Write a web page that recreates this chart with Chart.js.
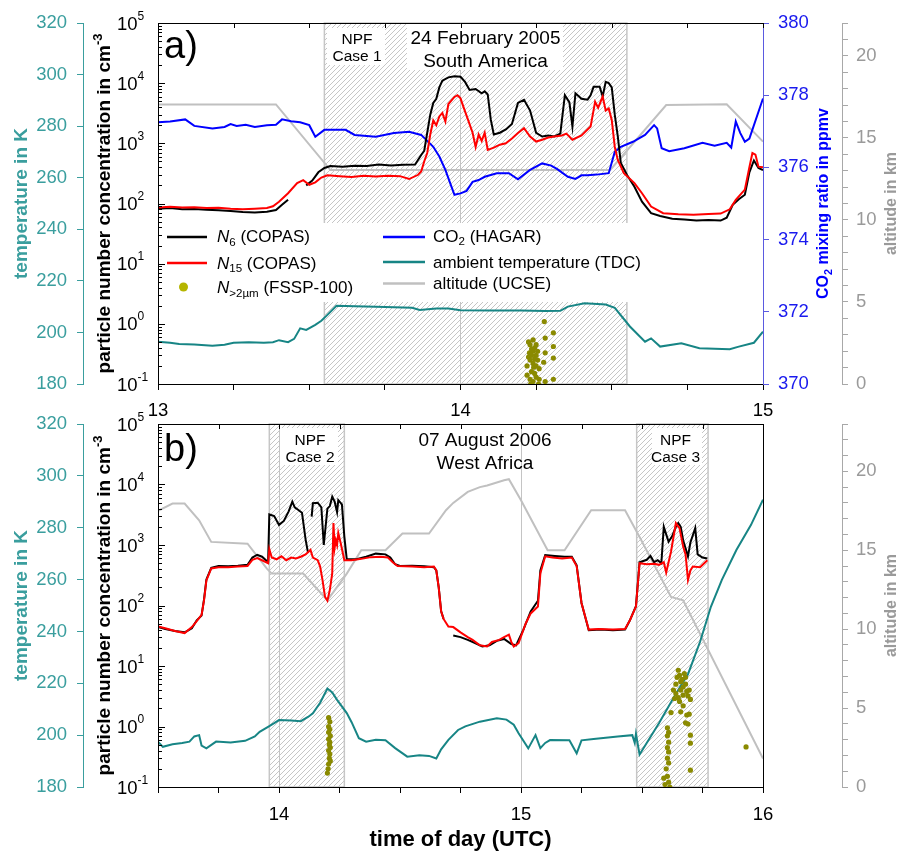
<!DOCTYPE html>
<html>
<head>
<meta charset="utf-8">
<script src="https://cdn.jsdelivr.net/npm/chart.js@4/dist/chart.umd.min.js"></script>
<style>
  html, body { margin: 0; padding: 0; background: #fff; }
  #wrap { position: relative; width: 898px; height: 852px; }
  canvas { position: absolute; left: 0; }
  #ca { top: 0; }
  #cb { top: 400px; }
</style>
</head>
<body>
<div id="wrap">
  <canvas id="ca" width="898" height="420"></canvas>
  <canvas id="cb" width="898" height="452"></canvas>
</div>
<script>
"use strict";
// ---- panel a) 24 February 2005, South America : [time of day (h UTC), value]
var A_N6 = [[13.00,82],[13.04,84],[13.08,80],[13.12,81],[13.16,79],[13.20,77],[13.24,75],[13.28,72],[13.32,71],[13.36,73],[13.39,78],[13.41,95],[13.43,115],[13.44,null],[13.49,200],[13.51,240],[13.53,330],[13.55,390],[13.57,420],[13.61,410],[13.65,425],[13.69,420],[13.73,445],[13.77,430],[13.81,440],[13.85,445],[13.87,640],[13.88,750],[13.89,1500],[13.90,3000],[13.91,4700],[13.92,5500],[13.93,8500],[13.94,11000],[13.96,12500],[13.98,13000],[14.00,12800],[14.015,10500],[14.03,7700],[14.05,8000],[14.07,6800],[14.08,7300],[14.09,6500],[14.10,2500],[14.11,1400],[14.13,1500],[14.15,1700],[14.17,2100],[14.19,4700],[14.21,5300],[14.23,3500],[14.25,1500],[14.27,1300],[14.29,1350],[14.31,1300],[14.33,1450],[14.345,6300],[14.36,4800],[14.37,1900],[14.38,6800],[14.40,5500],[14.42,5300],[14.43,6300],[14.44,8700],[14.46,8700],[14.47,6000],[14.48,10500],[14.49,10000],[14.50,8500],[14.51,3000],[14.52,1300],[14.53,470],[14.55,300],[14.575,190],[14.60,107],[14.63,69],[14.66,62],[14.70,56],[14.74,54],[14.78,52],[14.82,53],[14.86,52],[14.88,58],[14.90,95],[14.92,118],[14.94,140],[14.955,330],[14.97,520],[14.985,390],[15.00,360]];
var A_N15 = [[13.00,86],[13.04,88],[13.08,86],[13.12,87],[13.16,84],[13.20,85],[13.24,82],[13.28,80],[13.32,82],[13.36,84],[13.38,90],[13.40,107],[13.43,148],[13.46,218],[13.48,245],[13.50,205],[13.52,225],[13.54,270],[13.56,295],[13.60,285],[13.64,275],[13.68,290],[13.72,280],[13.76,290],[13.80,285],[13.83,255],[13.86,300],[13.87,340],[13.88,500],[13.89,690],[13.90,1400],[13.91,2400],[13.92,2000],[13.93,2800],[13.94,3200],[13.95,2300],[13.96,4500],[13.98,5900],[13.99,6300],[14.00,5600],[14.01,4000],[14.025,2450],[14.04,1500],[14.05,870],[14.06,1400],[14.07,1100],[14.08,1500],[14.09,780],[14.11,850],[14.13,950],[14.15,1000],[14.17,1200],[14.19,1480],[14.21,1780],[14.23,1300],[14.25,1070],[14.27,1150],[14.29,1250],[14.31,1300],[14.335,1350],[14.35,1450],[14.37,1150],[14.40,1350],[14.43,1900],[14.445,4900],[14.455,3900],[14.47,6000],[14.48,3500],[14.49,3800],[14.50,2450],[14.51,870],[14.52,530],[14.54,320],[14.575,218],[14.60,148],[14.63,89],[14.67,69],[14.72,66],[14.77,65],[14.82,67],[14.86,68],[14.89,80],[14.91,115],[14.94,170],[14.955,400],[14.965,690],[14.975,650],[14.985,410],[15.00,400]];
var A_CO2 = [[13.00,377.25],[13.04,377.27],[13.09,377.33],[13.12,377.15],[13.18,377.08],[13.22,377.12],[13.24,377.2],[13.26,377.15],[13.29,377.18],[13.32,377.12],[13.36,377.17],[13.39,377.18],[13.41,377.33],[13.44,377.28],[13.47,377.25],[13.50,377.17],[13.52,376.85],[13.55,377.04],[13.62,377.04],[13.65,376.9],[13.72,376.85],[13.78,376.95],[13.83,376.99],[13.87,376.9],[13.91,376.57],[13.93,376.3],[13.95,375.93],[13.97,375.47],[13.98,375.24],[14.00,375.28],[14.02,375.35],[14.04,375.6],[14.06,375.65],[14.08,375.74],[14.12,375.84],[14.16,375.84],[14.19,375.67],[14.23,375.93],[14.27,376.11],[14.30,376.05],[14.32,375.95],[14.355,375.74],[14.38,375.68],[14.40,375.78],[14.42,375.78],[14.45,375.8],[14.49,375.84],[14.51,376.43],[14.53,376.57],[14.57,376.71],[14.61,376.9],[14.64,377.17],[14.65,377.08],[14.665,376.53],[14.69,376.45],[14.74,376.53],[14.80,376.68],[14.84,376.6],[14.88,376.68],[14.895,376.55],[14.91,377.27],[14.925,376.95],[14.94,376.71],[14.955,376.8],[15.00,377.91]];
var A_TEMP = [[13.00,196.4],[13.04,196.0],[13.07,195.5],[13.12,195.3],[13.18,194.8],[13.22,195.2],[13.25,196.0],[13.30,196.2],[13.35,196.0],[13.38,196.2],[13.40,197.0],[13.43,196.2],[13.45,197.5],[13.47,201.6],[13.49,201.0],[13.52,202.9],[13.54,204.5],[13.56,206.8],[13.59,210.3],[13.65,210.2],[13.72,210.0],[13.78,209.8],[13.84,209.6],[13.865,208.7],[13.92,209.3],[13.96,209.3],[14.00,208.6],[14.10,208.5],[14.20,208.5],[14.28,208.3],[14.33,208.4],[14.355,210.0],[14.41,211.3],[14.48,210.8],[14.51,209.5],[14.56,202.3],[14.61,196.4],[14.63,197.7],[14.66,194.5],[14.73,195.8],[14.79,193.9],[14.89,193.5],[14.92,194.5],[14.97,196.0],[15.00,200.3]];
var A_ALT = [[13.00,17.04],[13.39,17.04],[13.57,13.04],[14.495,13.04],[14.68,17.0],[14.88,17.05],[15.00,14.77]];
var A_FSSP = [[14.277,1.09],[14.307,0.71],[14.28,0.58],[14.24,0.54],[14.307,0.42],[14.28,0.33],[14.307,0.27],[14.275,0.23],[14.307,0.12],[14.28,0.11],[14.225,0.5],[14.23,0.45],[14.235,0.38],[14.24,0.35],[14.245,0.4],[14.25,0.3],[14.225,0.28],[14.23,0.25],[14.24,0.22],[14.25,0.2],[14.255,0.25],[14.26,0.18],[14.22,0.2],[14.235,0.16],[14.245,0.15],[14.25,0.13],[14.23,0.12],[14.24,0.11],[14.26,0.12],[14.22,0.14],[14.255,0.35],[14.235,0.3],[14.245,0.26],[14.25,0.45],[14.228,0.33],[14.242,0.19],[14.232,0.1],[14.258,0.1]];
var A_NPF = [[13.55,14.55]];

// ---- panel b) 07 August 2006, West Africa
var B_N6 = [[13.50,44],[13.53,41],[13.57,38],[13.61,36],[13.64,42],[13.66,57],[13.68,68],[13.69,125],[13.70,270],[13.72,420],[13.75,450],[13.79,445],[13.83,455],[13.87,470],[13.89,620],[13.91,690],[13.93,640],[13.955,520],[13.96,3200],[13.98,3000],[14.00,2150],[14.02,2500],[14.04,3600],[14.055,5200],[14.065,4200],[14.08,3800],[14.095,3400],[14.11,1230],[14.12,740],[14.125,null],[14.135,2950],[14.14,4900],[14.16,5000],[14.175,4200],[14.185,1000],[14.20,4000],[14.21,4400],[14.22,6300],[14.23,5200],[14.24,3500],[14.245,5500],[14.26,4700],[14.27,1380],[14.28,580],[14.32,580],[14.36,640],[14.40,720],[14.44,700],[14.46,620],[14.48,480],[14.50,450],[14.55,455],[14.60,445],[14.64,430],[14.65,380],[14.66,200],[14.67,80],[14.68,60],[14.69,null],[14.72,32],[14.75,30],[14.78,27],[14.81,24],[14.84,21],[14.87,22],[14.90,26],[14.93,28],[14.96,23],[14.98,22],[15.01,40],[15.04,80],[15.07,120],[15.08,380],[15.10,680],[15.14,660],[15.18,640],[15.21,640],[15.23,460],[15.25,110],[15.28,39],[15.33,40],[15.38,39],[15.43,40],[15.45,57],[15.475,98],[15.49,520],[15.52,570],[15.535,660],[15.55,520],[15.565,560],[15.58,500],[15.59,2000],[15.60,1500],[15.61,1130],[15.625,1400],[15.64,2000],[15.65,2300],[15.66,2000],[15.67,1200],[15.69,650],[15.70,1100],[15.72,1900],[15.73,700],[15.75,620],[15.77,600]];
var B_N15 = [[13.50,45],[13.53,42],[13.57,38],[13.61,35],[13.64,44],[13.66,55],[13.68,70],[13.69,120],[13.70,260],[13.72,410],[13.75,430],[13.79,430],[13.83,440],[13.87,450],[13.89,570],[13.91,610],[13.93,560],[13.955,500],[13.96,850],[13.97,620],[13.99,580],[14.01,650],[14.03,560],[14.05,620],[14.07,600],[14.09,640],[14.11,700],[14.13,830],[14.14,620],[14.16,560],[14.17,440],[14.18,260],[14.19,140],[14.20,120],[14.21,180],[14.22,340],[14.225,2300],[14.23,900],[14.235,1200],[14.24,1000],[14.245,1580],[14.255,1070],[14.27,560],[14.30,560],[14.34,590],[14.38,630],[14.42,640],[14.45,620],[14.47,520],[14.49,450],[14.55,440],[14.60,430],[14.64,440],[14.65,380],[14.66,200],[14.67,80],[14.68,60],[14.70,45],[14.72,44],[14.75,36],[14.78,30],[14.80,27],[14.83,22],[14.86,21],[14.88,25],[14.91,27],[14.93,30],[14.95,33],[14.96,25],[14.97,21],[14.99,24],[15.02,51],[15.04,74],[15.07,96],[15.08,340],[15.10,650],[15.13,620],[15.17,600],[15.21,620],[15.23,450],[15.25,110],[15.28,40],[15.32,41],[15.38,40],[15.43,41],[15.45,57],[15.475,96],[15.49,500],[15.52,480],[15.55,490],[15.57,470],[15.59,520],[15.60,350],[15.62,780],[15.64,2300],[15.655,1900],[15.67,940],[15.68,700],[15.69,265],[15.70,380],[15.71,440],[15.74,430],[15.77,560]];
var B_TEMP = [[13.50,197.5],[13.52,195.5],[13.56,196.5],[13.60,197.0],[13.63,197.5],[13.65,199.5],[13.67,200.0],[13.68,196.0],[13.70,194.9],[13.74,197.5],[13.80,197.2],[13.86,197.8],[13.90,199.5],[13.92,201.3],[13.96,203.5],[13.98,204.6],[14.00,205.8],[14.05,205.6],[14.09,205.4],[14.12,207.0],[14.14,208.4],[14.17,212.5],[14.20,218.0],[14.22,216.5],[14.24,213.6],[14.28,208.5],[14.30,205.0],[14.33,198.8],[14.36,197.5],[14.40,198.2],[14.44,198.0],[14.48,195.0],[14.53,191.7],[14.58,192.2],[14.62,192.0],[14.65,191.0],[14.67,194.5],[14.70,198.2],[14.74,202.0],[14.77,203.4],[14.83,205.2],[14.90,206.5],[14.94,206.0],[14.97,204.0],[14.99,200.7],[15.03,194.9],[15.06,200.0],[15.08,195.0],[15.10,197.0],[15.12,198.1],[15.20,198.0],[15.23,193.0],[15.25,198.0],[15.30,198.5],[15.35,199.0],[15.40,199.5],[15.46,200.0],[15.47,197.0],[15.475,200.5],[15.49,192.5],[15.57,204.6],[15.64,216.0],[15.69,223.5],[15.74,236.0],[15.785,249.6],[15.83,259.9],[15.89,271.4],[15.95,281.0],[16.00,290.8]];
var B_ALT = [[13.50,17.5],[13.56,17.96],[13.61,17.96],[13.67,16.9],[13.72,15.53],[13.87,15.42],[13.95,13.84],[13.97,13.52],[14.10,13.52],[14.20,11.83],[14.28,13.52],[14.34,15.0],[14.44,15.0],[14.51,16.06],[14.62,16.06],[14.69,17.54],[14.72,18.0],[14.78,18.7],[14.83,19.0],[14.86,19.1],[14.93,19.44],[14.95,19.5],[15.00,18.17],[15.11,15.0],[15.18,15.0],[15.29,17.54],[15.43,17.54],[15.49,15.84],[15.62,12.04],[15.67,11.83],[16.00,1.8]];
var B_FSSP = [[14.205,1.4],[14.21,1.2],[14.205,1.0],[14.21,0.9],[14.205,0.8],[14.212,0.7],[14.205,0.62],[14.21,0.55],[14.208,0.5],[14.212,0.45],[14.205,0.4],[14.21,0.35],[14.208,0.3],[14.212,0.27],[14.205,0.24],[14.203,0.2],[14.2,0.17],
  [15.63,4],[15.64,5],[15.645,6.5],[15.65,8.5],[15.655,7],[15.66,5.5],[15.665,6],[15.67,4.5],[15.675,7.5],[15.68,5],[15.685,3.8],[15.69,3.2],[15.695,4],[15.70,2.8],[15.64,3.5],[15.65,3],[15.66,4],[15.67,3.3],[15.68,6.5],[15.635,2.9],[15.655,2.6],[15.67,2.2],
  [15.62,1.7],[15.66,1.75],[15.685,1.55],[15.695,1.6],[15.68,1.15],[15.69,1.1],[15.70,0.72],[15.70,0.53],[15.70,0.19],[15.605,0.95],[15.61,0.8],[15.605,0.7],[15.61,0.55],[15.605,0.45],[15.61,0.38],[15.605,0.3],[15.61,0.25],[15.6,0.2],[15.605,0.15],[15.59,0.14],[15.61,0.12],[15.595,0.11],[15.615,0.1],[15.93,0.46]];
var B_NPF = [[13.96,14.27],[15.478,15.773]];

var FONT = "'Liberation Sans', Arial, sans-serif";
var TEAL = '#178585', TEAL_LBL = '#3a9e9e', BLUE = '#0000ff', BLUE_AX = '#5a5ae0';
var GRAY = '#c0c0c0', GRAY_AX = '#a8a8a8', GRAY_LBL = '#9a9a9a', OLIVE = '#8a8a00';
Chart.defaults.font.family = FONT;

function pts(arr) { return arr.map(function (p) { return {x: p[0], y: p[1]}; }); }

var hatchTile = (function () {
  var n = 5;
  var c = document.createElement('canvas'); c.width = n; c.height = n;
  var g = c.getContext('2d');
  g.fillStyle = '#fff'; g.fillRect(0, 0, n, n);
  g.strokeStyle = '#c6c6c6'; g.lineWidth = 1;
  g.beginPath();
  g.moveTo(0, n); g.lineTo(n, 0);
  g.moveTo(-n / 2, n / 2); g.lineTo(n / 2, -n / 2);
  g.moveTo(n / 2, n * 1.5); g.lineTo(n * 1.5, n / 2);
  g.stroke();
  return c;
})();

// rich text: parts = [[text, kind]], kind chars: i italic, b bold, _ subscript, ^ superscript
function rich(ctx, parts, x, y, size, color, measureOnly) {
  var cx = x;
  parts.forEach(function (p) {
    var k = p[1], fs = size, dy = 0, st = '';
    if (k.indexOf('i') >= 0) st += 'italic ';
    if (k.indexOf('b') >= 0) st += 'bold ';
    if (k.indexOf('_') >= 0) { fs = size * 0.68; dy = size * 0.22; }
    if (k.indexOf('^') >= 0) { fs = size * 0.68; dy = -size * 0.42; }
    ctx.font = st + fs + 'px ' + FONT;
    if (!measureOnly) { ctx.fillStyle = color; ctx.fillText(p[0], cx, y + dy); }
    cx += ctx.measureText(p[0]).width;
  });
  return cx - x;
}
function vTitle(ctx, parts, cx, cy, size, color) {
  ctx.save();
  ctx.textAlign = 'left'; ctx.textBaseline = 'alphabetic';
  var w = rich(ctx, parts, 0, 0, size, color, true);
  ctx.translate(cx, cy); ctx.rotate(-Math.PI / 2);
  rich(ctx, parts, -w / 2, size * 0.36, size, color);
  ctx.restore();
}

function panelPlugin(P) {
  return {
    id: 'panel' + P.name,
    beforeDraw: function (chart) {
      var ctx = chart.ctx, a = chart.chartArea, x = chart.scales.x;
      ctx.save();
      var pat = ctx.createPattern(hatchTile, 'repeat');
      P.npf.forEach(function (r) {
        var x0 = x.getPixelForValue(r[0]), x1 = x.getPixelForValue(r[1]);
        ctx.fillStyle = pat;
        ctx.fillRect(x0, a.top, x1 - x0, a.bottom - a.top);
        ctx.strokeStyle = '#c6c6c6'; ctx.lineWidth = 1.5;
        ctx.strokeRect(x0, a.top, x1 - x0, a.bottom - a.top);
      });
      ctx.restore();
    },
    beforeDatasetsDraw: function (chart) {
      var ctx = chart.ctx;
      ctx.save();
      ctx.fillStyle = '#fff';
      P.boxes.forEach(function (b) { ctx.fillRect(b[0], b[1], b[2], b[3]); });
      ctx.fillStyle = '#000'; ctx.textBaseline = 'alphabetic';
      P.texts.forEach(function (t) {
        ctx.font = t[4] + 'px ' + FONT;
        ctx.textAlign = t[3];
        ctx.fillText(t[0], t[1], t[2]);
      });
      ctx.restore();
    },
    afterDraw: function (chart) {
      var ctx = chart.ctx, a = chart.chartArea, x = chart.scales.x, yN = chart.scales.yN;
      ctx.save();
      // frame
      ctx.strokeStyle = '#000'; ctx.lineWidth = 1;
      ctx.beginPath();
      ctx.moveTo(a.left, a.bottom + 0.5); ctx.lineTo(a.right, a.bottom + 0.5);
      ctx.moveTo(a.left + 0.5, a.bottom); ctx.lineTo(a.left + 0.5, a.top);
      ctx.moveTo(a.left, a.top + 0.5); ctx.lineTo(a.right + 0.5, a.top + 0.5);
      if (P.rightFrame) { ctx.moveTo(a.right + 0.5, a.top); ctx.lineTo(a.right + 0.5, a.bottom + 1); }
      ctx.stroke();
      // inner ticks: top of x axis, left of log axis
      ctx.beginPath();
      for (var t = x.min; t <= x.max + 1e-9; t += 0.25) {
        var px = Math.round(x.getPixelForValue(t)) + 0.5;
        ctx.moveTo(px, a.top); ctx.lineTo(px, a.top + 5);
      }
      for (var d = -1; d <= 5; d++) {
        for (var m = 1; m <= 9; m++) {
          if (d === 5 && m > 1) break;
          var py = Math.round(yN.getPixelForValue(m * Math.pow(10, d))) + 0.5;
          ctx.moveTo(a.left, py); ctx.lineTo(a.left + (m === 1 ? 7 : 4), py);
        }
      }
      ctx.stroke();
      // log tick labels 10^n
      ctx.textAlign = 'left'; ctx.textBaseline = 'alphabetic';
      for (var e = -1; e <= 5; e++) {
        var yy = yN.getPixelForValue(Math.pow(10, e));
        ctx.font = '18.5px ' + FONT; ctx.fillStyle = '#000';
        ctx.fillText('10', 117, yy + 6.6);
        var w = ctx.measureText('10').width;
        ctx.font = '12px ' + FONT;
        ctx.fillText(String(e), 117 + w, yy - 3.5);
      }
      // axis titles
      var cy = (a.top + a.bottom) / 2;
      vTitle(ctx, [['temperature in K', 'b']], 20, cy, 19, TEAL_LBL);
      vTitle(ctx, [['particle number concentration in cm', 'b'], ['-3', 'b^']], 103, cy, 19, '#000');
      if (P.co2) vTitle(ctx, [['CO', 'b'], ['2', 'b_'], [' mixing ratio in ppmv', 'b']], 822.5, cy, 16, BLUE);
      vTitle(ctx, [['altitude in km', 'b']], 890, cy, 16, GRAY_LBL);
      if (P.xTitle) {
        ctx.font = 'bold 22px ' + FONT; ctx.fillStyle = '#000'; ctx.textAlign = 'center';
        ctx.fillText('time of day (UTC)', (a.left + a.right) / 2, P.xTitle);
      }
      // legend
      if (P.legend) {
        ctx.textAlign = 'left';
        P.legend.forEach(function (L) {
          if (L.dot) {
            ctx.fillStyle = L.color; ctx.beginPath();
            ctx.arc((L.x0 + L.x1) / 2, L.y, 4.5, 0, Math.PI * 2); ctx.fill();
          } else {
            ctx.strokeStyle = L.color; ctx.lineWidth = 2.5;
            ctx.beginPath(); ctx.moveTo(L.x0, L.y); ctx.lineTo(L.x1, L.y); ctx.stroke();
          }
          rich(ctx, L.parts, L.tx, L.ty, 17, '#000');
        });
      }
      ctx.restore();
    }
  };
}

function lineSet(data, axis, color, order) {
  return {data: pts(data), yAxisID: axis, borderColor: color, backgroundColor: color,
          borderWidth: 2, pointRadius: 0, tension: 0, spanGaps: false, order: order};
}
function dotSet(data) {
  return {type: 'scatter', data: pts(data), yAxisID: 'yN', backgroundColor: OLIVE, borderColor: OLIVE,
          borderWidth: 0, pointRadius: 2.6, showLine: false, order: 0};
}

function xScale(min, max, h, pad) {
  return {type: 'linear', position: 'bottom', min: min, max: max,
    afterFit: function (s) { s.height = h; },
    ticks: {stepSize: 0.25, autoSkip: false, maxRotation: 0, padding: pad, color: '#000',
      font: {size: 18.5}, callback: function (v) { return Number.isInteger(v) ? String(v) : ''; }},
    grid: {drawOnChartArea: true, lineWidth: 1, tickLength: 6, tickColor: '#000',
      color: function (c) { return (c.tick && Number.isInteger(c.tick.value)) ? '#c4c4c4' : 'rgba(0,0,0,0)'; }},
    border: {display: false}};
}
function yCommon(altMax, rightAxis) {
  var s = {
    yN: {type: 'logarithmic', position: 'left', weight: 0, min: 0.1, max: 1e5,
      afterFit: function (s) { s.width = 75; },
      ticks: {display: false}, grid: {display: false}, border: {display: false}},
    yT: {type: 'linear', position: 'left', weight: 1, min: 180, max: 320,
      afterFit: function (s) { s.width = 83; },
      ticks: {stepSize: 20, padding: 10, color: TEAL_LBL, font: {size: 18.5}},
      grid: {drawOnChartArea: false, color: TEAL_LBL, tickLength: 6},
      border: {display: true, color: TEAL_LBL}},
    yA: {type: 'linear', position: 'right', weight: 1, min: 0, max: altMax,
      afterFit: function (s) { s.width = 56; },
      ticks: {stepSize: 1, autoSkip: false, padding: 8, color: GRAY_LBL, font: {size: 18.5},
        callback: function (v) { return v % 5 === 0 ? String(v) : ''; }},
      grid: {drawOnChartArea: false, color: GRAY_AX, tickLength: 6},
      border: {display: true, color: GRAY_AX}}
  };
  s.yR = rightAxis;
  return s;
}

// ---------- panel a
var scalesA = yCommon(22, {type: 'linear', position: 'right', weight: 0, min: 370, max: 380,
  afterFit: function (s) { s.width = 79; },
  ticks: {stepSize: 2, padding: 9, color: '#1a1aee', font: {size: 18.5}},
  grid: {drawOnChartArea: false, color: BLUE_AX, tickLength: 6},
  border: {display: true, color: BLUE_AX}});
scalesA.x = xScale(13, 15, 36, 10);

new Chart(document.getElementById('ca'), {
  type: 'line',
  data: {datasets: [
    dotSet(A_FSSP),
    lineSet(A_N15, 'yN', '#ff0000', 1),
    lineSet(A_N6, 'yN', '#000000', 2),
    lineSet(A_CO2, 'yR', BLUE, 3),
    lineSet(A_TEMP, 'yT', TEAL, 4),
    lineSet(A_ALT, 'yA', GRAY, 5)
  ]},
  options: {
    responsive: false, animation: false, devicePixelRatio: 1,
    layout: {padding: {top: 23, left: 0, right: 0, bottom: 0}},
    plugins: {legend: {display: false}, tooltip: {enabled: false}},
    scales: scalesA
  },
  plugins: [panelPlugin({
    name: 'A', npf: A_NPF, co2: true, rightFrame: false,
    boxes: [[327, 28, 58, 37], [407, 24, 156, 46], [158.5, 223, 604, 79]],
    texts: [['a)', 164, 58, 'left', 38], ['NPF', 357, 44, 'center', 15.5], ['Case 1', 357, 60.5, 'center', 15.5],
            ['24 February 2005', 485.5, 44, 'center', 19], ['South America', 485.5, 67, 'center', 19]],
    legend: [
      {x0: 167, x1: 207, y: 237, color: '#000', tx: 217, ty: 242, parts: [['N', 'i'], ['6', '_'], [' (COPAS)', '']]},
      {x0: 167, x1: 207, y: 263, color: '#f00', tx: 217, ty: 268.5, parts: [['N', 'i'], ['15', '_'], [' (COPAS)', '']]},
      {x0: 167, x1: 200, y: 287, dot: true, color: '#b5b500', tx: 217, ty: 293, parts: [['N', 'i'], ['>2µm', '_'], [' (FSSP-100)', '']]},
      {x0: 383, x1: 425, y: 237, color: BLUE, tx: 433, ty: 241.5, parts: [['CO', ''], ['2', '_'], [' (HAGAR)', '']]},
      {x0: 383, x1: 425, y: 262, color: TEAL, tx: 433, ty: 267.5, parts: [['ambient temperature (TDC)', '']]},
      {x0: 383, x1: 425, y: 283.5, color: GRAY, tx: 433, ty: 289, parts: [['altitude (UCSE)', '']]}
    ]
  })]
});

// ---------- panel b
var scalesB = yCommon(23, {type: 'linear', position: 'right', weight: 0, min: 0, max: 1,
  afterFit: function (s) { s.width = 79; },
  ticks: {display: false}, grid: {display: false}, border: {display: false}});
scalesB.x = xScale(13.5, 16, 65, 11);

new Chart(document.getElementById('cb'), {
  type: 'line',
  data: {datasets: [
    dotSet(B_FSSP),
    lineSet(B_N15, 'yN', '#ff0000', 1),
    lineSet(B_N6, 'yN', '#000000', 2),
    lineSet(B_TEMP, 'yT', TEAL, 4),
    lineSet(B_ALT, 'yA', GRAY, 5)
  ]},
  options: {
    responsive: false, animation: false, devicePixelRatio: 1,
    layout: {padding: {top: 24, left: 0, right: 0, bottom: 0}},
    plugins: {legend: {display: false}, tooltip: {enabled: false}},
    scales: scalesB
  },
  plugins: [panelPlugin({
    name: 'B', npf: B_NPF, co2: false, rightFrame: true, xTitle: 446,
    boxes: [[280, 28, 58, 37], [652, 28, 50, 37]],
    texts: [['b)', 164, 61, 'left', 38], ['NPF', 310, 45, 'center', 15.5], ['Case 2', 310, 62, 'center', 15.5],
            ['NPF', 675.5, 45, 'center', 15.5], ['Case 3', 675.5, 62, 'center', 15.5],
            ['07 August 2006', 485, 45.5, 'center', 19], ['West Africa', 485, 69, 'center', 19]]
  })]
});
</script>
</body>
</html>
